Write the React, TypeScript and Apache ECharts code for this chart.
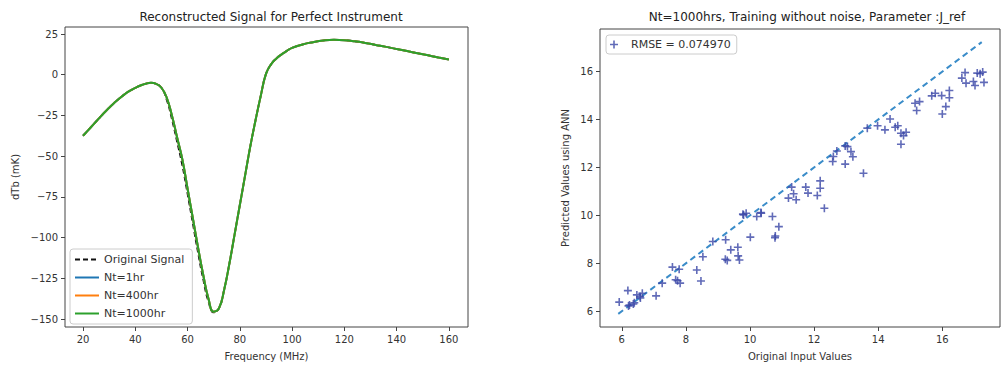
import React, { useEffect, useRef } from "react";
import * as echarts from "echarts";

// ---------- Left panel data ----------
const freq = [20, 22, 24, 26, 28, 30, 32, 34, 36, 38, 40, 42, 44, 46, 48, 50, 52, 54, 56, 58, 60, 62, 64, 66, 68, 70, 72, 74, 76, 78, 80, 82, 84, 86, 88, 90, 92, 94, 96, 98, 100, 104, 108, 112, 116, 120, 124, 128, 132, 136, 140, 144, 148, 152, 156, 160];
const originalSignal = [-37.5, -34, -30.5, -27, -23.5, -20.3, -17.2, -14.4, -11.9, -9.8, -8.1, -6.6, -5.5, -5, -5.6, -8, -15.5, -27.5, -41.5, -56, -73.5, -91.5, -109.5, -126, -139.5, -146, -143.5, -132, -116, -98, -80, -62, -44, -28, -13, 0.5, 6.5, 10, 12.5, 14.7, 16.5, 18.6, 20, 21, 21.4, 21.2, 20.5, 19.5, 18.3, 17.1, 15.8, 14.5, 13.2, 11.9, 10.6, 9.3];
const nt1hr = [-37.5, -34, -30.5, -27, -23.5, -20.3, -17.2, -14.4, -11.9, -9.8, -8.1, -6.6, -5.5, -5, -5.6, -8, -14, -25, -38.5, -52, -70, -88, -106, -123, -137.5, -145.5, -143.5, -132, -116, -98, -80, -62, -44, -28, -13, 0.5, 6.5, 10, 12.5, 14.7, 16.5, 18.6, 20, 21, 21.4, 21.2, 20.5, 19.5, 18.3, 17.1, 15.8, 14.5, 13.2, 11.9, 10.6, 9.3];
const nt400hr = nt1hr.slice();
const nt1000hr = nt1hr.slice();
const leftXTicks = [20, 40, 60, 80, 100, 120, 140, 160];
const leftYTicks = [-150, -125, -100, -75, -50, -25, 0, 25];

// ---------- Right panel data ----------
const originalInput = [5.92, 6.19, 6.24, 6.36, 6.39, 6.47, 6.57, 6.64, 7.07, 7.26, 7.58, 7.79, 7.68, 7.74, 7.82, 8.34, 8.47, 8.53, 8.84, 9.24, 9.4, 9.23, 9.29, 9.62, 9.63, 9.67, 9.78, 9.88, 10.01, 10.21, 10.35, 10.7, 10.9, 10.79, 10.78, 11.2, 11.3, 11.36, 11.44, 11.74, 11.81, 12.1, 12.19, 12.19, 12.32, 13.54, 12.6, 12.58, 12.71, 12.97, 13.04, 13.15, 13.21, 12.97, 13.66, 13.98, 14.21, 14.37, 14.53, 14.61, 14.71, 14.79, 14.87, 14.71, 15.15, 15.29, 15.2, 15.67, 15.78, 15.98, 16.22, 16.22, 16.11, 16.0, 16.61, 16.71, 16.74, 16.97, 17.02, 17.09, 17.18, 17.26, 17.3, 6.21, 6.58, 9.8, 10.34];
const predictedANN = [6.38, 6.86, 6.26, 6.3, 6.35, 6.68, 6.61, 6.75, 6.64, 7.17, 7.84, 7.75, 7.31, 7.27, 7.17, 7.72, 7.26, 8.27, 8.91, 8.98, 8.56, 8.17, 8.12, 8.67, 8.31, 8.14, 10.05, 10.09, 9.09, 9.95, 10.09, 9.95, 9.53, 9.14, 9.07, 10.72, 11.18, 10.9, 10.65, 11.18, 10.93, 10.83, 11.44, 11.13, 10.3, 11.76, 12.46, 12.25, 12.69, 12.9, 12.87, 12.66, 12.45, 12.14, 13.64, 13.74, 13.57, 14.02, 13.68, 13.74, 13.43, 13.33, 13.47, 12.97, 14.68, 14.75, 14.38, 14.99, 15.1, 15.0, 15.21, 14.91, 14.54, 14.23, 15.73, 15.96, 15.52, 15.59, 15.42, 15.94, 15.91, 15.98, 15.55, 6.22, 6.55, 10.02, 10.12];
const idealLine = [5.89, 17.23];
const rightTicks = [6, 8, 10, 12, 14, 16];

const FONT = "DejaVu Sans";
const AX = "#444";
const LBL = "#333";
const fmt = (v: number) => String(v).replace("-", "\u2212");

const PLUS = "path://M4,0 L6,0 L6,4 L10,4 L10,6 L6,6 L6,10 L4,10 L4,6 L0,6 L0,4 L4,4 Z";

function axisCommon(ticks: number[], min: number, max: number, name: string, nameGap: number) {
  return {
    type: "value",
    min,
    max,
    name,
    nameLocation: "middle",
    nameGap,
    nameTextStyle: { fontFamily: FONT, fontSize: 10, color: LBL },
    axisLine: { show: false, onZero: false },
    axisTick: { show: true, inside: false, length: 4, lineStyle: { color: AX }, customValues: ticks },
    axisLabel: { show: true, margin: 7, fontFamily: FONT, fontSize: 10, color: LBL, customValues: ticks, formatter: fmt },
    splitLine: { show: false },
  };
}

export default function App() {
  const ref = useRef<HTMLDivElement>(null);
  useEffect(() => {
    document.body.style.margin = "0";
    const chart = echarts.init(ref.current!, null, { renderer: "svg" });
    const pair = (xs: number[], ys: number[]) => xs.map((x, i) => [x, ys[i]]);
    chart.setOption({
      animation: false,
      backgroundColor: "#fff",
      textStyle: { fontFamily: FONT },
      title: [
        { text: "Reconstructed Signal for Perfect Instrument", left: 266, top: 6, textAlign: "center", textStyle: { fontFamily: FONT, fontSize: 12, fontWeight: "normal", color: "#222" } },
        { text: "Nt=1000hrs, Training without noise, Parameter :J_ref", left: 802, top: 6, textAlign: "center", textStyle: { fontFamily: FONT, fontSize: 12, fontWeight: "normal", color: "#222" } },
      ],
      grid: [
        { left: 65, right: 534, top: 27, bottom: 38, show: true, borderColor: AX, borderWidth: 1, backgroundColor: "transparent", outerBoundsMode: "none" },
        { left: 600, right: 2, top: 29, bottom: 38, show: true, borderColor: AX, borderWidth: 1, backgroundColor: "transparent", outerBoundsMode: "none" },
      ],
      xAxis: [
        { ...axisCommon(leftXTicks, 13.1, 167.3, "Frequency (MHz)", 24), gridIndex: 0 },
        { ...axisCommon(rightTicks, 5.32, 17.8, "Original Input Values", 24), gridIndex: 1 },
      ],
      yAxis: [
        { ...axisCommon(leftYTicks, -154.9, 29.3, "dTb (mK)", 45), gridIndex: 0 },
        { ...axisCommon(rightTicks, 5.34, 17.78, "Predicted Values using ANN", 30), gridIndex: 1 },
      ],
      legend: [
        {
          data: ["Original Signal", "Nt=1hr", "Nt=400hr", "Nt=1000hr"],
          orient: "vertical",
          left: 70,
          top: 249,
          itemWidth: 24,
          itemHeight: 10,
          itemGap: 7,
          padding: [5, 8, 5, 4],
          borderColor: "#ccc",
          borderWidth: 1,
          borderRadius: 3,
          backgroundColor: "rgba(255,255,255,0.8)",
          itemStyle: { opacity: 0 },
          textStyle: { fontFamily: FONT, fontSize: 11, color: LBL },
        },
        {
          data: ["RMSE = 0.074970"],
          left: 606,
          top: 35,
          itemWidth: 24,
          itemHeight: 8,
          padding: [4, 6, 4, 4],
          borderColor: "#ccc",
          borderWidth: 1,
          borderRadius: 3,
          backgroundColor: "rgba(255,255,255,0.8)",
          textStyle: { fontFamily: FONT, fontSize: 11, color: LBL },
        },
      ],
      series: [
        { name: "Original Signal", type: "line", xAxisIndex: 0, yAxisIndex: 0, data: pair(freq, originalSignal), smooth: 0.5, symbol: "none", lineStyle: { color: "#111", width: 1.6, type: [5, 3] }, itemStyle: { color: "#111" }, z: 2 },
        { name: "Nt=1hr", type: "line", xAxisIndex: 0, yAxisIndex: 0, data: pair(freq, nt1hr), smooth: 0.5, symbol: "none", lineStyle: { color: "#1f77b4", width: 2 }, itemStyle: { color: "#1f77b4" }, z: 3 },
        { name: "Nt=400hr", type: "line", xAxisIndex: 0, yAxisIndex: 0, data: pair(freq, nt400hr), smooth: 0.5, symbol: "none", lineStyle: { color: "#ff7f0e", width: 2 }, itemStyle: { color: "#ff7f0e" }, z: 4 },
        { name: "Nt=1000hr", type: "line", xAxisIndex: 0, yAxisIndex: 0, data: pair(freq, nt1000hr), smooth: 0.5, symbol: "none", lineStyle: { color: "#2ca02c", width: 2 }, itemStyle: { color: "#2ca02c" }, z: 5 },
        { name: "ideal", type: "line", xAxisIndex: 1, yAxisIndex: 1, data: pair(idealLine, idealLine), symbol: "none", lineStyle: { color: "#3a8cc9", width: 2, type: [6, 4] }, z: 2 },
        { name: "RMSE = 0.074970", type: "scatter", xAxisIndex: 1, yAxisIndex: 1, data: pair(originalInput, predictedANN), symbol: PLUS, symbolSize: 8, itemStyle: { color: "#3a46a6", opacity: 0.8 }, z: 3 },
      ],
    });
    return () => chart.dispose();
  }, []);
  return <div ref={ref} style={{ width: 1002, height: 365 }} />;
}
